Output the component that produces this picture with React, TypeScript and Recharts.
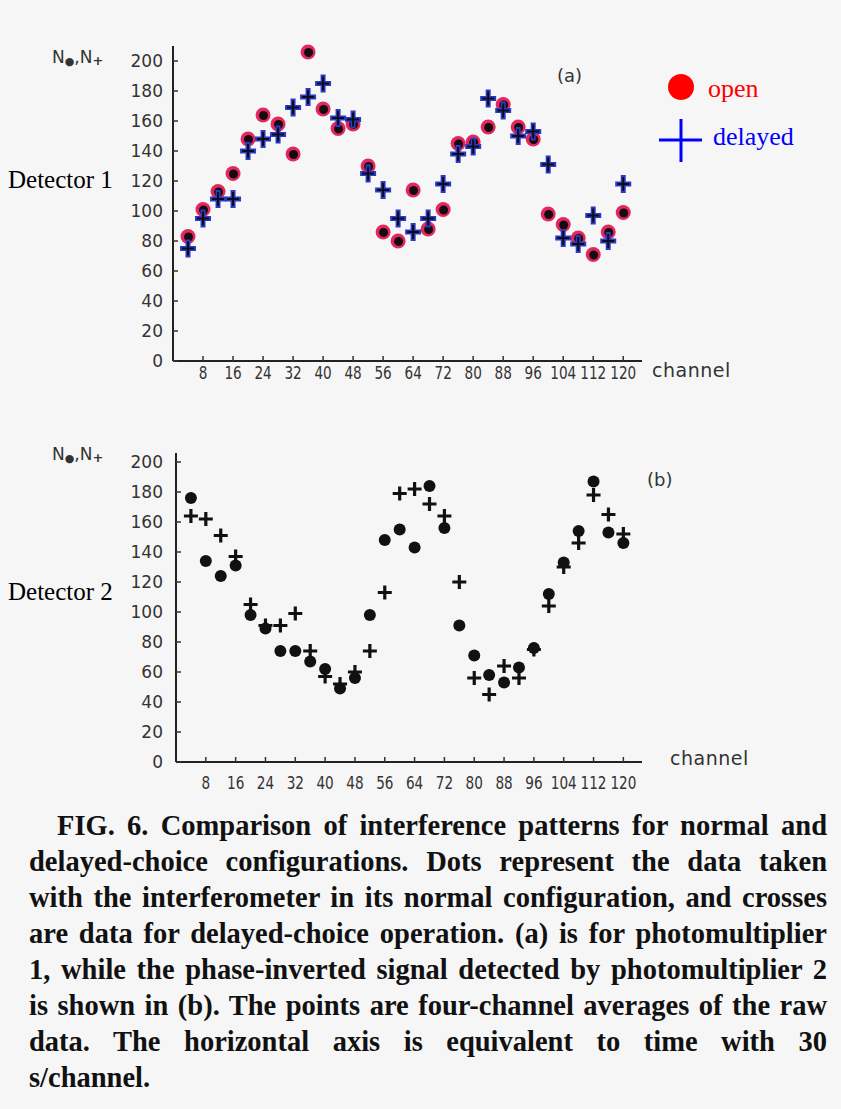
import React from 'react';
import { ScatterChart, Scatter, XAxis, YAxis } from 'recharts';

// channel positions (four-channel averages)
const channels = [4, 8, 12, 16, 20, 24, 28, 32, 36, 40, 44, 48, 52, 56, 60, 64, 68, 72, 76, 80, 84, 88, 92, 96, 100, 104, 108, 112, 116, 120];

// Detector 1 (panel a)
const openA = [83, 101, 113, 125, 148, 164, 158, 138, 206, 168, 155, 158, 130, 86, 80, 114, 88, 101, 145, 146, 156, 171, 156, 148, 98, 91, 82, 71, 86, 99];
const delayedA = [75, 95, 108, 108, 140, 148, 151, 169, 176, 185, 162, 161, 125, 114, 95, 86, 95, 118, 138, 143, 175, 167, 150, 153, 131, 82, 78, 97, 80, 118];

// Detector 2 (panel b)
const openB = [176, 134, 124, 131, 98, 89, 74, 74, 67, 62, 49, 56, 98, 148, 155, 143, 184, 156, 91, 71, 58, 53, 63, 76, 112, 133, 154, 187, 153, 146];
const delayedB = [164, 162, 151, 137, 105, 91, 91, 99, 74, 57, 52, 60, 74, 113, 179, 182, 172, 164, 120, 56, 45, 64, 56, 75, 104, 130, 146, 178, 165, 152];

const xTicks = [8, 16, 24, 32, 40, 48, 56, 64, 72, 80, 88, 96, 104, 112, 120];
const yTicks = [0, 20, 40, 60, 80, 100, 120, 140, 160, 180, 200];

const captionLines = [
  'FIG. 6. Comparison of interference patterns for normal and',
  'delayed-choice configurations. Dots represent the data taken',
  'with the interferometer in its normal configuration, and crosses',
  'are data for delayed-choice operation. (a) is for photomultiplier',
  '1, while the phase-inverted signal detected by photomultiplier 2',
  'is shown in (b). The points are four-channel averages of the raw',
  'data. The horizontal axis is equivalent to time with 30',
  's/channel.',
];

const toPoints = (ys: number[]) => channels.map((c, i) => ({ x: c, y: ys[i] }));

const RedDot = (p: any) => (
  <g>
    <circle cx={p.cx} cy={p.cy} r={7.5} fill="#e3285f" />
    <circle cx={p.cx + 0.5} cy={p.cy + 0.5} r={4.5} fill="#160a10" />
  </g>
);

const BlueCross = (p: any) => (
  <g>
    <path d={`M${p.cx - 8},${p.cy}H${p.cx + 8}M${p.cx},${p.cy - 9}V${p.cy + 9}`} stroke="#2b3ac4" strokeWidth={5} />
    <path d={`M${p.cx - 6},${p.cy}H${p.cx + 6}M${p.cx},${p.cy - 7}V${p.cy + 7}`} stroke="#0c0c18" strokeWidth={2} />
  </g>
);

const BlackDot = (p: any) => <circle cx={p.cx} cy={p.cy} r={6} fill="#111" />;

const BlackCross = (p: any) => (
  <path d={`M${p.cx - 7},${p.cy}H${p.cx + 7}M${p.cx},${p.cy - 7}V${p.cy + 7}`} stroke="#111" strokeWidth={3.2} />
);

const XTick = (p: any) => (
  <g transform={`translate(${p.x},${p.y})`}>
    <text transform="scale(0.8,1)" textAnchor="middle" dy="0.71em" fontSize={17} fontFamily="DejaVu Sans" fill="#333">
      {p.payload.value}
    </text>
  </g>
);

const yTickFont = { fill: '#333', fontSize: 17, fontFamily: 'DejaVu Sans' };
const axisLineStyle = { stroke: '#222', strokeWidth: 2 };
const tickLineStyle = { stroke: '#333', strokeWidth: 1.5 };

export default function App() {
  return (
    <div style={{ position: 'absolute', left: 0, top: 0, width: 841, height: 1109, background: '#f6f6f6', overflow: 'hidden' }}>
      <div style={{ position: 'absolute', left: 0, top: 0 }}>
        <ScatterChart width={841} height={400} margin={{ top: 46, right: 199, bottom: 9, left: 113 }}>
          <XAxis type="number" dataKey="x" domain={[0, 125]} ticks={xTicks} interval={0} height={30}
            tickSize={-5} tickMargin={11} axisLine={axisLineStyle} tickLine={tickLineStyle} tick={<XTick />} />
          <YAxis type="number" dataKey="y" domain={[0, 210]} ticks={yTicks} interval={0} width={60}
            tickSize={-5} tickMargin={15} axisLine={axisLineStyle} tickLine={tickLineStyle} tick={yTickFont} />
          <Scatter data={toPoints(openA)} shape={RedDot} isAnimationActive={false} />
          <Scatter data={toPoints(delayedA)} shape={BlueCross} isAnimationActive={false} />
        </ScatterChart>
      </div>
      <div style={{ position: 'absolute', left: 0, top: 400 }}>
        <ScatterChart width={841} height={400} margin={{ top: 53, right: 199, bottom: 8, left: 116 }}>
          <XAxis type="number" dataKey="x" domain={[0, 125]} ticks={xTicks} interval={0} height={30}
            tickSize={-5} tickMargin={20} axisLine={axisLineStyle} tickLine={tickLineStyle} tick={<XTick />} />
          <YAxis type="number" dataKey="y" domain={[0, 206]} ticks={yTicks} interval={0} width={60}
            tickSize={-5} tickMargin={18} axisLine={axisLineStyle} tickLine={tickLineStyle} tick={yTickFont} />
          <Scatter data={toPoints(openB)} shape={BlackDot} isAnimationActive={false} />
          <Scatter data={toPoints(delayedB)} shape={BlackCross} isAnimationActive={false} />
        </ScatterChart>
      </div>
      <svg width={841} height={1109} style={{ position: 'absolute', left: 0, top: 0, pointerEvents: 'none' }}>
        <g fontFamily="DejaVu Sans" fill="#333">
          <text x={52} y={63} fontSize={17}>N<tspan fontSize={11} dy={2}>●</tspan><tspan dy={-2}>,N</tspan><tspan fontSize={13} dy={2} fontWeight="bold">+</tspan></text>
          <text x={52} y={460} fontSize={17}>N<tspan fontSize={11} dy={2}>●</tspan><tspan dy={-2}>,N</tspan><tspan fontSize={13} dy={2} fontWeight="bold">+</tspan></text>
          <text x={557} y={82} fontSize={18}>(a)</text>
          <text x={647} y={486} fontSize={18}>(b)</text>
          <text x={652} y={377} fontSize={19} letterSpacing={0.5}>channel</text>
          <text x={670} y={765} fontSize={19} letterSpacing={0.5}>channel</text>
        </g>
        <g fontFamily="Liberation Serif" fontSize={25} fill="#000">
          <text x={8} y={188}>Detector 1</text>
          <text x={8} y={600}>Detector 2</text>
        </g>
        <circle cx={681} cy={87} r={13} fill="#ff0000" />
        <text x={708} y={97} fontFamily="Liberation Serif" fontSize={26} fill="#ff0000">open</text>
        <path d="M659,140H702M681,119V162" stroke="#0000ff" strokeWidth={3} />
        <text x={713} y={145} fontFamily="Liberation Serif" fontSize={26} fill="#0000ff">delayed</text>
      </svg>
      <div style={{ position: 'absolute', left: 29, top: 808, width: 798, fontFamily: 'Liberation Serif', fontWeight: 'bold', fontSize: 28.5, lineHeight: '36px', color: '#111' }}>
        {captionLines.map((line, i) => (
          <div key={i} style={{
            textAlign: 'justify',
            textAlignLast: i < captionLines.length - 1 ? 'justify' : 'left',
            paddingLeft: i === 0 ? 28 : 0,
            whiteSpace: 'nowrap',
            height: 36,
          }}>{line}</div>
        ))}
      </div>
    </div>
  );
}
